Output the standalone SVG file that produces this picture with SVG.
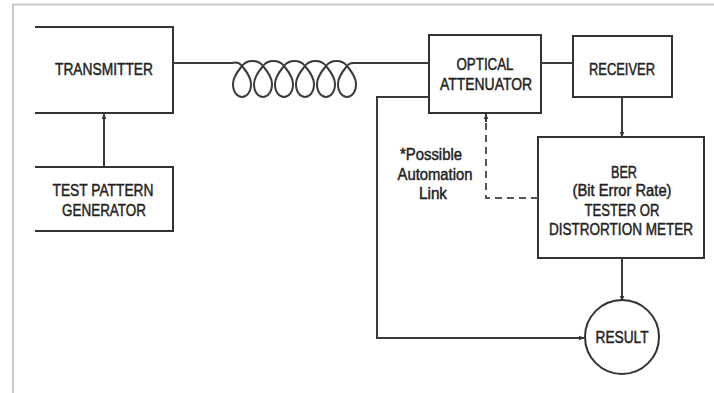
<svg xmlns="http://www.w3.org/2000/svg" width="714" height="393" viewBox="0 0 714 393">
<style>
.box{fill:none;stroke:#333;stroke-width:2}
.ln{fill:none;stroke:#3a3a3a;stroke-width:2}
.dash{fill:none;stroke:#555;stroke-width:2;stroke-dasharray:7 5}
text{font-family:"Liberation Sans",Arial,sans-serif;font-size:16px;fill:#222;text-anchor:middle;stroke:#222;stroke-width:0.45}
</style>
<defs>
<marker id="ah" viewBox="0 0 10 10" refX="9" refY="5" markerWidth="6" markerHeight="6" markerUnits="userSpaceOnUse" orient="auto"><path d="M0,1 L10,5 L0,9 z" fill="#333"/></marker>
</defs>
<rect width="714" height="393" fill="#fff"/>
<path d="M13,393 V4.5 H714" fill="none" stroke="#c8c8c8" stroke-width="2"/>

<g id="transmitter">
<path class="box" d="M35,27 H173 V113 H35"/>
<text x="104" y="75" textLength="98" lengthAdjust="spacingAndGlyphs">TRANSMITTER</text>
</g>
<g id="test-pattern">
<path class="box" d="M35,167 H173 V231 H35"/>
<text x="103" y="196" textLength="101" lengthAdjust="spacingAndGlyphs">TEST PATTERN</text>
<text x="104" y="216" textLength="84" lengthAdjust="spacingAndGlyphs">GENERATOR</text>
</g>
<g id="optical-attenuator">
<rect class="box" x="429" y="35" width="112" height="78"/>
<text x="485" y="70" textLength="57" lengthAdjust="spacingAndGlyphs">OPTICAL</text>
<text x="486" y="90" textLength="92" lengthAdjust="spacingAndGlyphs">ATTENUATOR</text>
</g>
<g id="receiver">
<rect class="box" x="573" y="36" width="99" height="61"/>
<text x="622" y="75" textLength="66" lengthAdjust="spacingAndGlyphs">RECEIVER</text>
</g>
<g id="ber">
<rect class="box" x="538" y="137" width="166" height="121"/>
<text x="624" y="178" textLength="26" lengthAdjust="spacingAndGlyphs">BER</text>
<text x="622" y="196" textLength="99" lengthAdjust="spacingAndGlyphs">(Bit Error Rate)</text>
<text x="622" y="216" textLength="75" lengthAdjust="spacingAndGlyphs">TESTER OR</text>
<text x="621" y="235" textLength="144" lengthAdjust="spacingAndGlyphs">DISTRORTION METER</text>
</g>
<g id="result">
<circle class="box" cx="622" cy="337" r="37"/>
<text x="622" y="343" textLength="53" lengthAdjust="spacingAndGlyphs">RESULT</text>
</g>
<g id="note">
<text x="431" y="160" textLength="62" lengthAdjust="spacingAndGlyphs">*Possible</text>
<text x="435" y="180" textLength="75" lengthAdjust="spacingAndGlyphs">Automation</text>
<text x="433" y="199" textLength="28" lengthAdjust="spacingAndGlyphs">Link</text>
</g>

<g id="connectors">
<path class="ln" d="M173,63 H232 C235,62 239,62 242,66
C245,70 251,76 251,84 C251,93 246,97 242,97 C238,97 233,93 233,84 C233,76 239,70 242,66 C245,62 248,61 252.5,61 C257,61 260,62 263,66
C266,70 272,76 272,84 C272,93 267,97 263,97 C259,97 254,93 254,84 C254,76 260,70 263,66 C266,62 269,61 273.5,61 C278,61 281,62 284,66
C287,70 293,76 293,84 C293,93 288,97 284,97 C280,97 275,93 275,84 C275,76 281,70 284,66 C287,62 290,61 294.5,61 C299,61 302,62 305,66
C308,70 314,76 314,84 C314,93 309,97 305,97 C301,97 296,93 296,84 C296,76 302,70 305,66 C308,62 311,61 315.5,61 C320,61 323,62 326,66
C329,70 335,76 335,84 C335,93 330,97 326,97 C322,97 317,93 317,84 C317,76 323,70 326,66 C329,62 332,61 336.5,61 C341,61 344,62 347,66
C350,70 356,76 356,84 C356,93 351,97 347,97 C343,97 338,93 338,84 C338,76 344,70 347,66 C350,62 353,63 358,63 H429"/>
<path class="ln" d="M541,63 H573"/>
<path class="ln" d="M104,167 V114" marker-end="url(#ah)"/>
<path class="ln" d="M622,97 V137" marker-end="url(#ah)"/>
<path class="ln" d="M622,258 V301" marker-end="url(#ah)"/>
<path class="ln" d="M429,97 H377 V338 H584" marker-end="url(#ah)"/>
<path class="dash" d="M538,198 H486 V120"/>
<path class="ln" d="M486,122 V114" marker-end="url(#ah)"/>
</g>
</svg>
